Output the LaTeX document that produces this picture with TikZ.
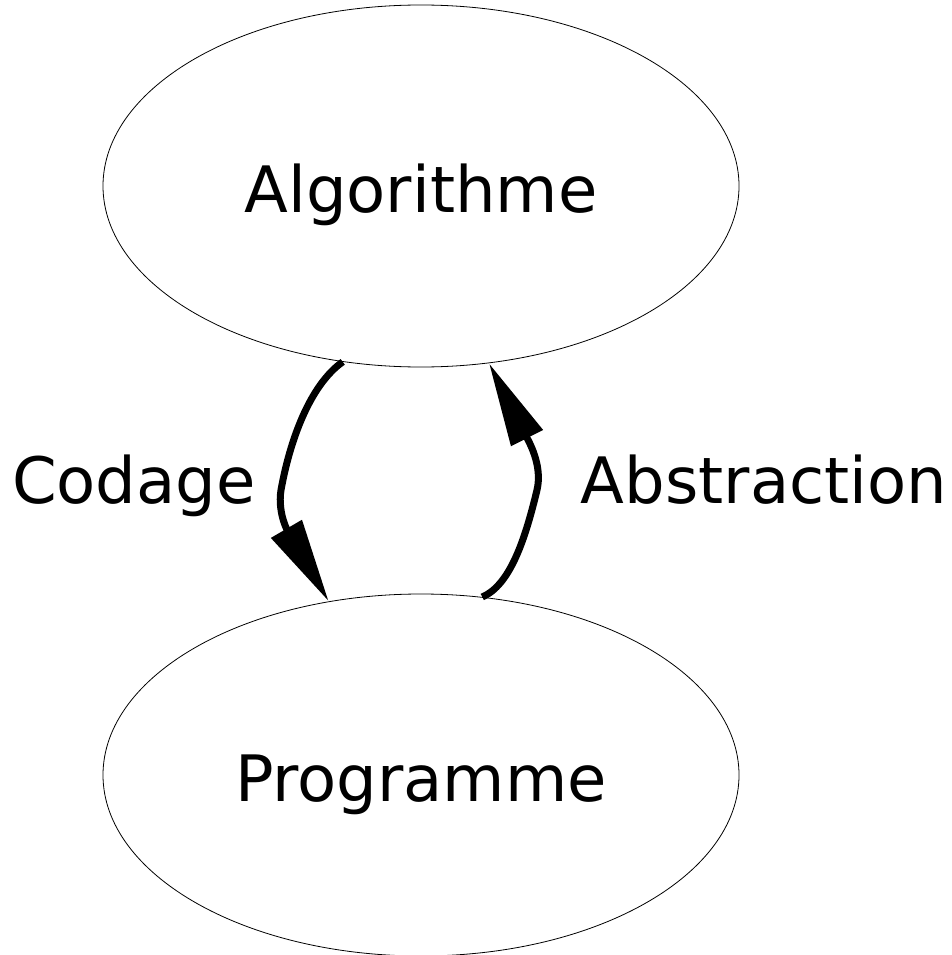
\documentclass[tikz,border=0pt]{standalone}
\usepackage{fontspec}
\setmainfont{DejaVu Sans}
\usetikzlibrary{shapes.geometric,arrows.meta}
\begin{document}
\begin{tikzpicture}[x=1pt,y=-1pt,
  state/.style={ellipse,draw,line width=0.8pt,minimum width=636pt,minimum height=362pt,inner sep=0pt,
    font=\fontsize{64}{76}\selectfont,text height=52pt,text depth=0pt},
  lab/.style={font=\fontsize{64}{76}\selectfont,anchor=base,inner sep=0pt},
  conn/.style={line width=7pt,-{Triangle[length=84pt,width=34pt]}}]
\useasboundingbox (0,0) rectangle (952,955);
\node[state] (algo) at (421,186) {Algorithme};
\node[state] (prog) at (421,775) {Programme};
\node[lab] (cod) at (134,503) {Codage};
\node[lab] (abs) at (764,503) {Abstraction};
\draw[conn] (algo.246.5) .. controls (310,385) and (290,440) .. (281,490)
  .. controls (277,515) and (290,535) .. (prog.118.7);
\draw[conn] (prog.71.7) .. controls (510,585) and (525,540) .. (537,490)
  .. controls (543,465) and (528,440) .. (algo.291.9);
\end{tikzpicture}
\end{document}
